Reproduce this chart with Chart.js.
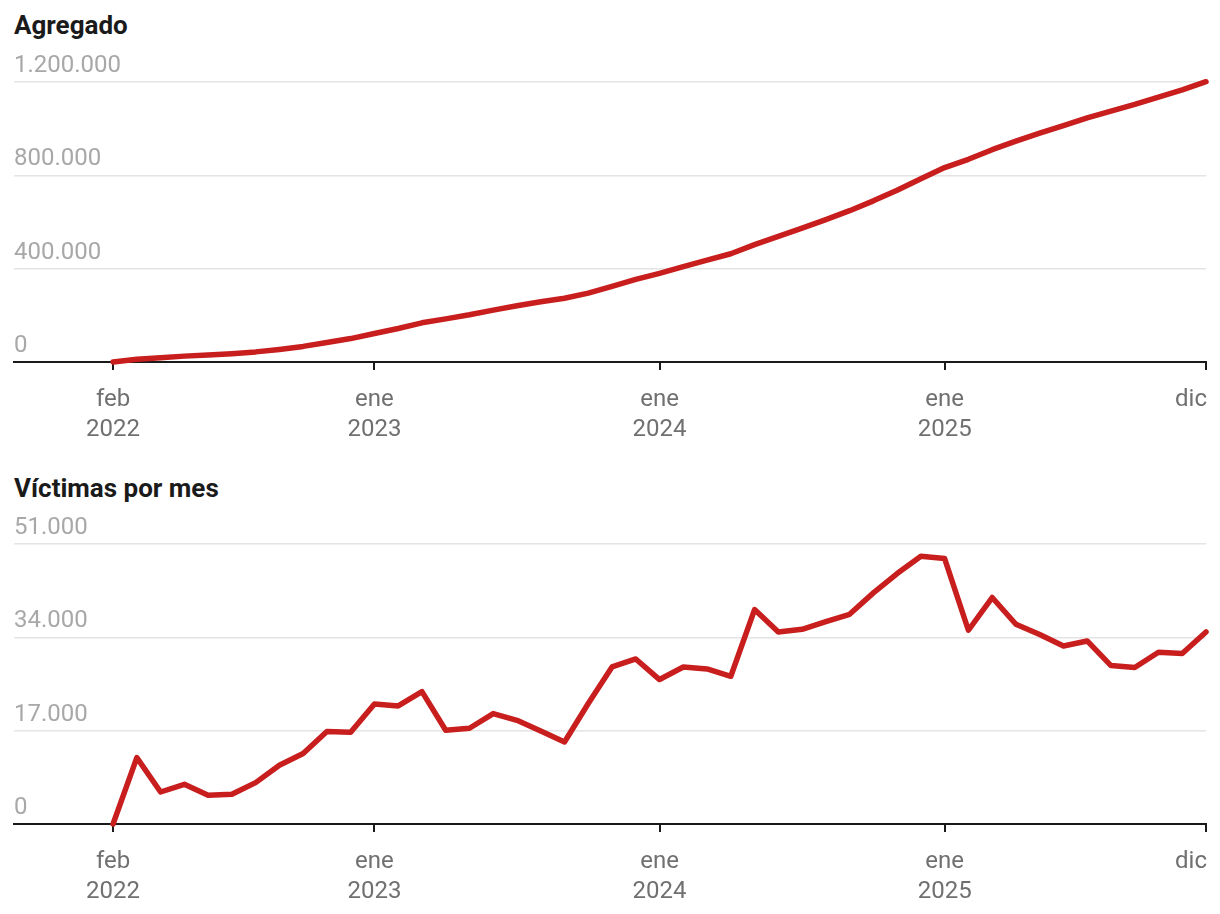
<!DOCTYPE html>
<html>
<head>
<meta charset="utf-8">
<script src="https://cdn.jsdelivr.net/npm/chart.js@4/dist/chart.umd.min.js"></script>
<style>
  body { margin: 0; background: #fff; width: 1220px; height: 914px; position: relative; overflow: hidden; font-family: Roboto, sans-serif; }
  .title { position: absolute; left: 14px; font-weight: bold; font-size: 26px; line-height: 1; color: #1a1a1a; }
  canvas { position: absolute; left: 0; }
</style>
</head>
<body>
<div class="title" style="top:12px">Agregado</div>
<canvas id="totalChart" width="1220" height="415" style="top:40px"></canvas>
<div class="title" style="top:475px">Víctimas por mes</div>
<canvas id="monthChart" width="1220" height="414" style="top:500px"></canvas>
<script>
// months from feb 2022 to dic 2025 (index 0 = feb 2022)
const MONTHS = ["feb 2022","mar 2022","abr 2022","may 2022","jun 2022","jul 2022","ago 2022","sep 2022","oct 2022","nov 2022","dic 2022",
  "ene 2023","feb 2023","mar 2023","abr 2023","may 2023","jun 2023","jul 2023","ago 2023","sep 2023","oct 2023","nov 2023","dic 2023",
  "ene 2024","feb 2024","mar 2024","abr 2024","may 2024","jun 2024","jul 2024","ago 2024","sep 2024","oct 2024","nov 2024","dic 2024",
  "ene 2025","feb 2025","mar 2025","abr 2025","may 2025","jun 2025","jul 2025","ago 2025","sep 2025","oct 2025","nov 2025","dic 2025"];
// victims per month
const perMonth = [0, 12100, 5830, 7230, 5230, 5410, 7540, 10700, 12830, 16830, 16700,
  21860, 21500, 24120, 17070, 17440, 20110, 18890, 16940, 14940, 21940, 28600, 30060,
  26310, 28600, 28240, 26910, 39060, 34980, 35470, 36880, 38200, 42090, 45620, 48770,
  48350, 35290, 41250, 36380, 34510, 32430, 33340, 28860, 28500, 31280, 31050, 34980];
// running total
const total = [0, 12100, 17930, 25160, 30390, 35800, 43340, 54040, 66870, 83700, 100400,
  122260, 143760, 167880, 184950, 202390, 222500, 241390, 258330, 273270, 295210, 323810, 353870,
  380180, 408780, 437020, 463930, 502990, 537970, 573440, 610320, 648520, 690610, 736230, 785000,
  833350, 868640, 909890, 946270, 980780, 1013210, 1046550, 1075410, 1103910, 1135190, 1166240, 1201220];
// x tick positions and their labels
const tickIdx = [0, 11, 23, 35, 46];
const tickLabels = [["feb", "2022"], ["ene", "2023"], ["ene", "2024"], ["ene", "2025"], ["dic"]];
const totalTicks = [0, 400000, 800000, 1200000];
const monthTicks = [0, 17000, 34000, 51000];

const RED = "#c81e1e";
Chart.defaults.font.family = "Roboto";

function fmt(v) {
  return String(v).replace(/\B(?=(\d{3})+(?!\d))/g, ".");
}

// two-line month/year labels under the axis, kept inside the canvas
const xLabels = {
  id: "xLabels",
  afterDraw(chart) {
    const ctx = chart.ctx, xs = chart.scales.x, bottom = chart.chartArea.bottom;
    ctx.save();
    ctx.font = "24px Roboto";
    ctx.fillStyle = "#707070";
    ctx.textAlign = "center";
    ctx.textBaseline = "alphabetic";
    tickIdx.forEach((v, i) => {
      const lines = tickLabels[i];
      const w = Math.max(...lines.map(l => ctx.measureText(l).width));
      let px = xs.getPixelForValue(v);
      px = Math.min(px, chart.width - 13 - w / 2);
      lines.forEach((l, j) => ctx.fillText(l, px, bottom + 44 + j * 30));
    });
    ctx.restore();
  }
};

function makeChart(id, values, yTicks, topPad, axisHeight) {
  return new Chart(document.getElementById(id), {
    type: "line",
    data: {
      datasets: [{
        data: values.map((v, i) => ({ x: i, y: v })),
        borderColor: RED,
        borderWidth: 5.5,
        borderJoinStyle: "round",
        borderCapStyle: "round",
        pointRadius: 0,
        tension: 0,
        clip: false
      }]
    },
    options: {
      responsive: false,
      animation: false,
      devicePixelRatio: 1,
      layout: { padding: { top: topPad, left: 14, right: 14, bottom: 0 } },
      plugins: { legend: { display: false }, tooltip: { enabled: false } },
      scales: {
        x: {
          type: "linear",
          min: -4.17,
          max: 46,
          afterBuildTicks: s => { s.ticks = tickIdx.map(v => ({ value: v })); },
          afterFit: s => { s.height = axisHeight; },
          ticks: { display: false },
          grid: { drawOnChartArea: false, drawTicks: true, tickLength: 8, color: "#1a1a1a", lineWidth: 2 },
          border: { display: true, color: "#1a1a1a", width: 2 }
        },
        y: {
          min: 0,
          max: yTicks[yTicks.length - 1],
          afterBuildTicks: s => { s.ticks = yTicks.map(v => ({ value: v })); },
          ticks: {
            mirror: true,
            padding: 0,
            labelOffset: -16,
            color: "#a8a8a8",
            font: { size: 24 },
            callback: v => fmt(v)
          },
          grid: {
            drawTicks: false,
            lineWidth: 1.5,
            color: c => c.tick && c.tick.value === 0 ? "rgba(0,0,0,0)" : "#e4e4e4"
          },
          border: { display: false }
        }
      }
    },
    plugins: [xLabels]
  });
}

makeChart("totalChart", total, totalTicks, 42, 93);
makeChart("monthChart", perMonth, monthTicks, 44, 90);
</script>
</body>
</html>
